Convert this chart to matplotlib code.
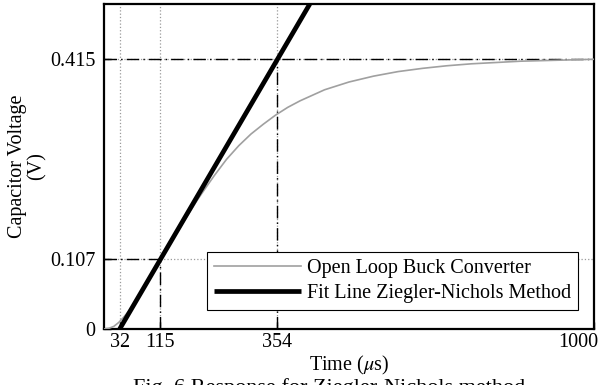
import matplotlib.pyplot as plt
import matplotlib.transforms as mtransforms

plt.rcParams['font.family'] = ['Liberation Serif', 'DejaVu Serif']
plt.rcParams['mathtext.fontset'] = 'stix'

# Open loop step response (time in us, voltage in V)
t_resp = [0, 10, 20, 30, 40, 50, 60, 75, 90, 105, 120, 135, 150, 165, 175,
          190, 200, 212, 225, 250, 275, 300, 325, 350, 375, 400, 450, 500,
          550, 600, 650, 700, 750, 800, 850, 900, 950, 1000]
v_resp = [0, 0.001, 0.004, 0.010, 0.018, 0.027, 0.037, 0.055, 0.074, 0.093,
          0.112, 0.131, 0.150, 0.168, 0.180, 0.198, 0.209, 0.222, 0.236,
          0.261, 0.282, 0.300, 0.315, 0.329, 0.341, 0.351, 0.368, 0.380,
          0.389, 0.396, 0.401, 0.405, 0.408, 0.410, 0.412, 0.413, 0.414,
          0.415]

# Ziegler-Nichols tangent line: zero crossing and crossing of the final value
t_fit = [32, 354]
v_fit = [0, 0.415]
v_top = 0.5

x_ticks = [32, 115, 354, 1000]
y_ticks = [0, 0.107, 0.415]
y_tick_labels = ['0', '0.107', '0.415']

fig = plt.figure(figsize=(6.13, 3.85), dpi=100)
ax = fig.add_axes([0.1697, 0.1455, 0.7993, 0.8441])

dashdot = (0, (9, 3, 1, 3))
grid_kw = dict(color='#9a9a9a', linestyle=':', linewidth=0.9, zorder=1)
for x in x_ticks[:3]:
    ax.axvline(x, **grid_kw)
for y in y_ticks[1:]:
    ax.axhline(y, **grid_kw)

# dash-dot guide lines to the characteristic points
guide_kw = dict(color='black', ls=dashdot, lw=1.0, zorder=2)
ax.plot([0, 1000], [0.415, 0.415], **guide_kw)
ax.plot([354, 354], [0, 0.415], **guide_kw)
ax.plot([0, 115], [0.107, 0.107], **guide_kw)
ax.plot([115, 115], [0, 0.107], **guide_kw)

ax.plot(t_resp, v_resp, color='#a0a0a0', lw=1.2, zorder=3,
        label='Open Loop Buck Converter')

slope = (v_fit[1] - v_fit[0]) / (t_fit[1] - t_fit[0])
t_end = t_fit[0] + (v_top - v_fit[0]) / slope
ax.plot([t_fit[0], t_end], [v_fit[0], v_top], color='black', lw=3.4,
        zorder=4, solid_capstyle='butt',
        label='Fit Line Ziegler-Nichols Method')

ax.set_xlim(0, 1000)
ax.set_ylim(0, v_top)
ax.set_xticks(x_ticks)
ax.set_yticks(y_ticks)
ax.set_yticklabels(y_tick_labels)
ax.tick_params(direction='in', length=5, width=1, labelsize=14.5)
ax.tick_params(axis='x', pad=3)
ax.tick_params(axis='y', pad=6)
last = ax.get_xticklabels()[-1]
last.set_horizontalalignment('right')
last.set_transform(last.get_transform() +
                   mtransforms.ScaledTranslation(4 / 100, 0, fig.dpi_scale_trans))
for s in ax.spines.values():
    s.set_linewidth(1.6)

ax.set_xlabel(r'Time ($\mu$s)', fontsize=14.5, labelpad=1.5)
ax.set_ylabel('Capacitor Voltage\n(V)', fontsize=14.5, labelpad=3,
              linespacing=1.0)

leg = ax.legend(loc='lower right', bbox_to_anchor=(0.967, 0.058),
                borderaxespad=0, fancybox=False, framealpha=1,
                edgecolor='black', fontsize=14.5, handlelength=4.3,
                borderpad=0.35, labelspacing=0.3, handletextpad=0.3)
leg.get_frame().set_linewidth(0.8)

# figure caption, partly cut by the lower edge as in the source image
fig.text(0.536, 0.019, 'Fig. 6 Response for Ziegler-Nichols method',
         ha='center', va='top', fontsize=16)

fig.savefig('out.png', dpi=100)
